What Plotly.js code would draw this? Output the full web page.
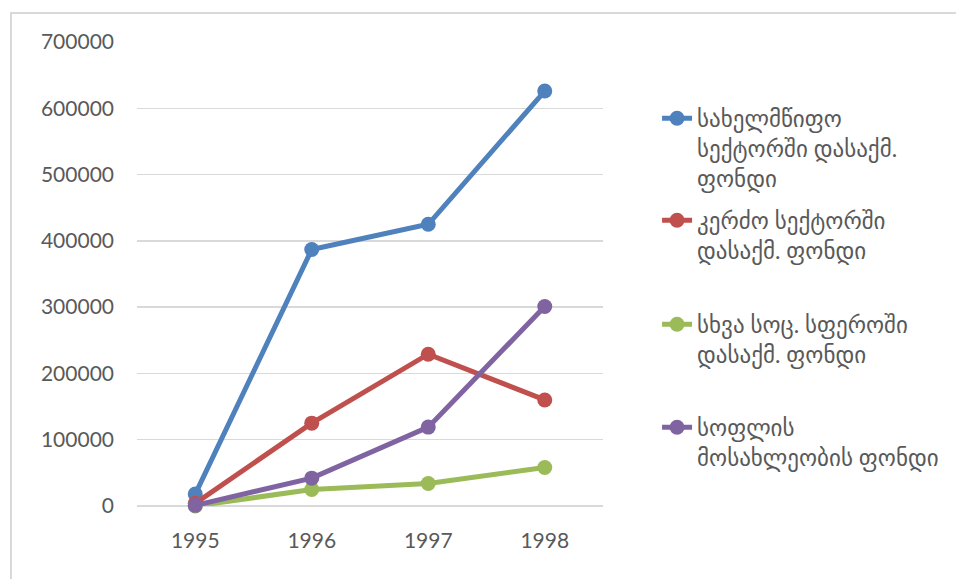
<!DOCTYPE html>
<html>
<head>
<meta charset="utf-8">
<script src="https://cdn.plot.ly/plotly-3.0.1.min.js"></script>
<style>
  html, body { margin: 0; padding: 0; background: #fff; }
  #wrap { position: relative; width: 956px; height: 579px; }
  #frame { position: absolute; left: 10px; top: 12px; right: 0; bottom: 0;
           border-left: 2px solid #d9d9d9; border-top: 2px solid #d9d9d9; pointer-events: none; }
  #chart { position: absolute; left: 0; top: 0; width: 956px; height: 579px; }
</style>
</head>
<body>
<div id="wrap">
  <div id="chart"></div>
  <div id="frame"></div>
</div>
<script>
// Years on the category axis
const years = ['1995', '1996', '1997', '1998'];

// Employment funds by sector
const stateSector   = [18000, 387000, 425000, 626000];
const privateSector = [4000, 125000, 229000, 160000];
const otherSocial   = [0, 25000, 34000, 58000];
const ruralPop      = [1000, 42000, 119000, 301000];

const names = [
  'სახელმწიფო<br>სექტორში დასაქმ.<br>ფონდი',
  'კერძო სექტორში<br>დასაქმ. ფონდი',
  'სხვა სოც. სფეროში<br>დასაქმ. ფონდი',
  'სოფლის<br>მოსახლეობის ფონდი'
];
const colors = ['#4F81BD', '#C0504D', '#9BBB59', '#8064A2'];
const series = [stateSector, privateSector, otherSocial, ruralPop];
const legendIds = ['legend', 'legend2', 'legend3', 'legend4'];
const legendY = [0.882, 0.662, 0.438, 0.216];

const font = "Lato, 'DejaVu Sans', sans-serif";

const traces = series.map((vals, i) => ({
  type: 'scatter',
  mode: 'lines+markers',
  x: years,
  y: vals,
  name: names[i],
  legend: legendIds[i],
  line: { color: colors[i], width: 5 },
  marker: { color: colors[i], size: 15 },
  cliponaxis: false
}));

const layout = {
  width: 956,
  height: 579,
  margin: { l: 137, r: 348, t: 42, b: 73 },
  paper_bgcolor: '#ffffff',
  plot_bgcolor: '#ffffff',
  font: { family: font, color: '#595959', size: 20 },
  showlegend: true,
  xaxis: {
    type: 'category',
    range: [-0.5, 3.5],
    showgrid: false,
    zeroline: false,
    showline: false,
    ticks: '',
    ticklabelstandoff: 20,
    tickfont: { family: font, size: 21, color: '#595959' }
  },
  yaxis: {
    range: [0, 700000],
    dtick: 100000,
    tick0: 0,
    showgrid: true,
    gridcolor: '#d9d9d9',
    gridwidth: 1.5,
    zeroline: true,
    zerolinecolor: '#d9d9d9',
    zerolinewidth: 1.5,
    ticks: '',
    ticklabelstandoff: 22,
    tickformat: 'd',
    tickfont: { family: font, size: 21, color: '#595959' }
  }
};

legendIds.forEach((id, i) => {
  layout[id] = {
    x: 1.116,
    xanchor: 'left',
    y: legendY[i],
    yanchor: 'top',
    valign: 'top',
    bgcolor: 'rgba(0,0,0,0)',
    borderwidth: 0,
    font: { family: font, size: 23, color: '#595959' },
    itemclick: false,
    itemdoubleclick: false
  };
});

Plotly.newPlot('chart', traces, layout, { displayModeBar: false, staticPlot: true });
</script>
</body>
</html>
